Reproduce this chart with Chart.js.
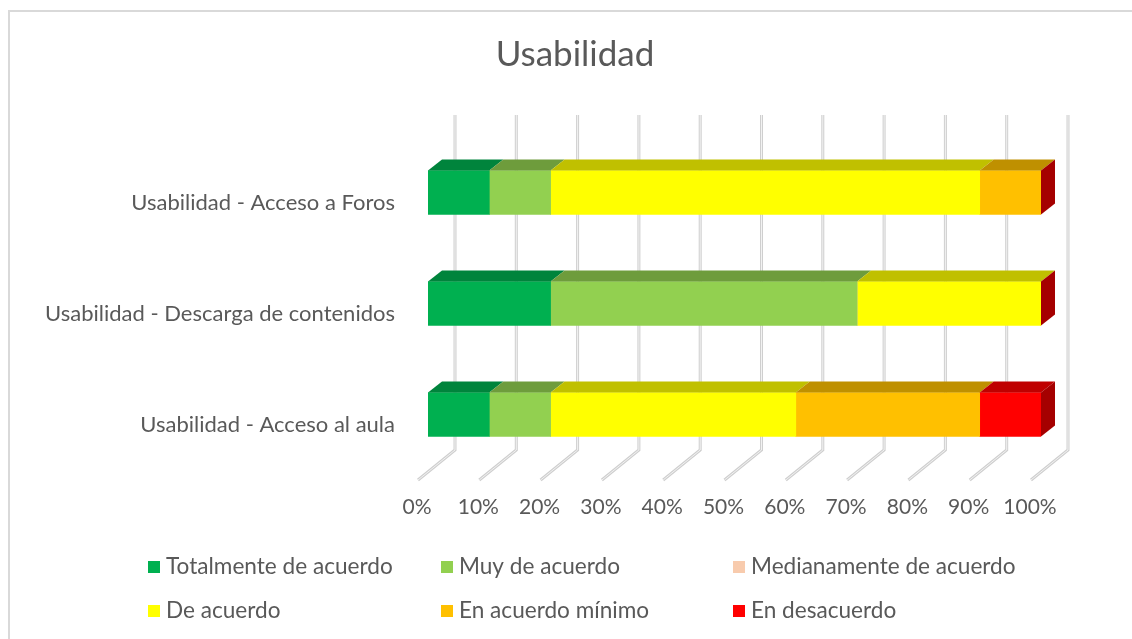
<!DOCTYPE html>
<html>
<head>
<meta charset="utf-8">
<script src="https://cdn.jsdelivr.net/npm/chart.js@4.4.1/dist/chart.umd.min.js"></script>
<style>
  body { margin: 0; background: #fff; }
  #wrap { width: 1132px; height: 639px; position: relative; }
</style>
</head>
<body>
<div id="wrap"><canvas id="myChart" width="1132" height="639"></canvas></div>
<script>
const titulo = "Usabilidad";
const categorias = ["Usabilidad - Acceso a Foros", "Usabilidad - Descarga de contenidos", "Usabilidad - Acceso al aula"];
const series = ["Totalmente de acuerdo", "Muy de acuerdo", "Medianamente de acuerdo", "De acuerdo", "En acuerdo mínimo", "En desacuerdo"];
const totalmente = [10, 20, 10];
const muy = [10, 50, 10];
const medianamente = [0, 0, 0];
const deAcuerdo = [70, 30, 40];
const minimo = [10, 0, 30];
const desacuerdo = [0, 0, 10];
const ticksX = [0, 10, 20, 30, 40, 50, 60, 70, 80, 90, 100];

const colores = ["#00B050", "#92D050", "#F8CBAD", "#FFFF00", "#FFC000", "#FF0000"];
const coloresArriba = ["#00843C", "#6E9C3C", "#BA987F", "#C0C000", "#BF9000", "#BF0000"];
const coloresLado = ["#006B30", "#5A8030", "#A08270", "#A0A000", "#A07800", "#A50000"];

const dx = 14, dy = 11;
const fuente = "Lato, 'Open Sans', sans-serif";

const grid3d = {
  id: "grid3d",
  beforeDraw(chart) {
    const ctx = chart.ctx;
    ctx.save();
    ctx.strokeStyle = "#D9D9D9";
    ctx.lineWidth = 2;
    ctx.strokeRect(9, 11, 1140, 700);
    ctx.restore();
  },
  beforeDatasetsDraw(chart) {
    const ctx = chart.ctx;
    const x = chart.scales.x;
    ctx.save();
    ticksX.forEach(v => {
      const px = x.getPixelForValue(v);
      const bx = px + 27, by = 450;
      ctx.strokeStyle = "#CFCFCF";
      ctx.lineWidth = 3;
      ctx.beginPath();
      ctx.moveTo(bx, 115);
      ctx.lineTo(bx, by);
      ctx.lineTo(bx - 37, by + 30);
      ctx.stroke();
      ctx.strokeStyle = "#F2F2F2";
      ctx.lineWidth = 1;
      ctx.stroke();
    });
    ctx.restore();
  },
  afterDatasetsDraw(chart) {
    const ctx = chart.ctx;
    ctx.save();
    const n = chart.data.datasets.length;
    chart.data.datasets.forEach((ds, i) => {
      const meta = chart.getDatasetMeta(i);
      meta.data.forEach((bar, j) => {
        const l = Math.min(bar.x, bar.base), r = Math.max(bar.x, bar.base);
        const top = bar.y - bar.height / 2, bot = bar.y + bar.height / 2;
        if (r - l > 0.5) {
          ctx.fillStyle = coloresArriba[i];
          ctx.beginPath();
          ctx.moveTo(l, top);
          ctx.lineTo(l + dx, top - dy);
          ctx.lineTo(r + dx, top - dy);
          ctx.lineTo(r, top);
          ctx.closePath();
          ctx.fill();
        }
        if (i === n - 1) {
          ctx.fillStyle = coloresLado[i];
          ctx.beginPath();
          ctx.moveTo(r, top);
          ctx.lineTo(r + dx, top - dy);
          ctx.lineTo(r + dx, bot - dy);
          ctx.lineTo(r, bot);
          ctx.closePath();
          ctx.fill();
        }
      });
    });
    ctx.restore();
  },
  afterDraw(chart) {
    const ctx = chart.ctx;
    ctx.save();
    // titulo
    ctx.font = "35px " + fuente;
    ctx.fillStyle = "#595959";
    ctx.textAlign = "center";
    ctx.textBaseline = "middle";
    ctx.fillText(titulo, 575, 55);
    // leyenda en columnas como en Excel
    const cols = [148, 441, 733];
    const rows = [567, 611];
    ctx.textAlign = "left";
    ctx.font = "22.6px " + fuente;
    chart.data.datasets.forEach((ds, i) => {
      const cx = cols[i % 3], cy = rows[Math.floor(i / 3)];
      ctx.fillStyle = ds.backgroundColor;
      ctx.fillRect(cx, cy - 6, 12, 12);
      ctx.fillStyle = "#595959";
      ctx.fillText(ds.label, cx + 18, cy);
    });
    ctx.restore();
  }
};

const datos = [totalmente, muy, medianamente, deAcuerdo, minimo, desacuerdo];

new Chart(document.getElementById("myChart"), {
  type: "bar",
  data: {
    labels: categorias,
    datasets: series.map((s, i) => ({
      label: s,
      data: datos[i],
      backgroundColor: colores[i],
      borderWidth: 0,
      barThickness: 44
    }))
  },
  options: {
    indexAxis: "y",
    responsive: false,
    animation: false,
    layout: { padding: { left: 0, right: 91, top: 137, bottom: 0 } },
    scales: {
      x: {
        stacked: true,
        min: 0,
        max: 100,
        afterFit: s => { s.height = 169; },
        afterBuildTicks: s => { s.ticks = ticksX.map(v => ({ value: v })); },
        grid: { display: false, drawTicks: false },
        border: { display: false },
        ticks: {
          callback: v => v + "%",
          font: { family: fuente, size: 21 },
          color: "#595959",
          padding: 25,
          labelOffset: -11,
          maxRotation: 0,
          autoSkip: false
        }
      },
      y: {
        stacked: true,
        afterFit: s => { s.width = 428; },
        grid: { display: false, drawTicks: false },
        border: { display: false },
        ticks: {
          font: { family: fuente, size: 22 },
          color: "#595959",
          padding: 33,
          labelOffset: 10
        }
      }
    },
    plugins: {
      legend: { display: false },
      tooltip: { enabled: false },
      title: { display: false }
    }
  },
  plugins: [grid3d]
});
</script>
</body>
</html>
